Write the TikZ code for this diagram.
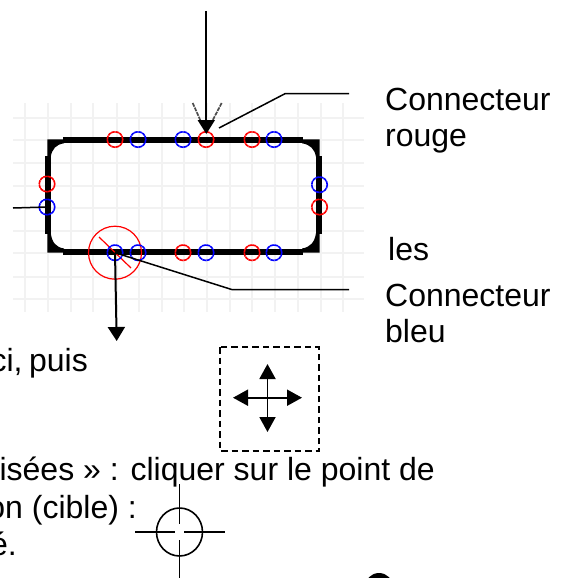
\documentclass[tikz,border=0pt]{standalone}
\usepackage{fontspec}
\setmainfont{Liberation Sans}
\usetikzlibrary{arrows.meta,shapes.geometric}
\definecolor{gridgrey}{HTML}{F2F2F2}
\tikzset{
  gridline/.style={gridgrey,line width=1.8pt},
  conn/.style={circle,draw,line width=1.6pt,minimum size=15.5pt,inner sep=0pt,dash pattern=on 3.6pt off 0.5pt},
  redconn/.style={conn,draw=red},
  blueconn/.style={conn,draw=blue},
  leader/.style={black,line width=1.5pt},
  bigarrow/.style={black,line width=2pt,-{Triangle[length=14pt,width=17pt]}},
  txt/.style={inner sep=0pt,font=\fontsize{32}{37}\selectfont,text=black},
  txtl/.style={txt,anchor=base west},
  txtr/.style={txt,anchor=base east},
  cursorv/.style={black!70,line width=1.7pt,dash pattern=on 4pt off 1pt},
}
\begin{document}
\begin{tikzpicture}[x=1pt,y=-1pt]
\useasboundingbox (0,0) rectangle (569,578);
\clip (0,0) rectangle (569,578);
% grid
\foreach \gx in {25,48,71,93,117,139,162,184,207,230,252,275,298,321,343}
  \draw[gridline] (\gx,103) -- (\gx,312);
\foreach \gy in {118,140,163,186,208,231,253,277,299}
  \draw[gridline] (13,\gy) -- (364,\gy);
% outline: straight sides
\fill[black] (63,137) rectangle (303,143.3);
\fill[black] (63,248.5) rectangle (303,255);
\fill[black] (45,156) rectangle (50.7,234);
\fill[black] (316,156) rectangle (322,234);
% outline: filled corners with a curved inner edge
\fill[black] (47.3,139.3) -- (64,139.3) -- (64,143.3) .. controls (56,144.5) and (52,149) .. (50.7,157) -- (47.3,157) -- cycle;
\fill[black] (319.7,139.3) -- (302,139.3) -- (302,143.3) .. controls (310,144.5) and (314.7,149) .. (316,157) -- (319.7,157) -- cycle;
\fill[black] (47.3,252.7) -- (64,252.7) -- (64,248.5) .. controls (56,247.3) and (52,242.5) .. (50.7,233) -- (47.3,233) -- cycle;
\fill[black] (319.7,252.7) -- (302,252.7) -- (302,248.5) .. controls (310,247.3) and (314.7,242.5) .. (316,233) -- (319.7,233) -- cycle;
% big red selection circle
\node[circle,draw=red,line width=1.2pt,minimum size=53pt,inner sep=0pt] (sel) at (115,252.7) {};
\draw[red,line width=1.2pt] (99,237) -- (131,268);
% connectors
\foreach \nm/\st/\px/\py in {
  ta/redconn/115/139.5, tb/blueconn/138/139.5, tc/blueconn/183/139.5,
  td/redconn/206/139.5, te/redconn/252/139.5, tf/blueconn/274/139.5,
  ba/blueconn/115/252.7, bb/blueconn/138/252.7, bc/redconn/183/252.7,
  bd/blueconn/206/252.7, be/redconn/252/252.7, bf/blueconn/274/252.7,
  la/redconn/47/184, lb/blueconn/47/207,
  ra/blueconn/319.5/184.7, rb/redconn/319.5/207}
  \node[\st] (\nm) at (\px,\py) {};
% cursor
\coordinate (vl0) at (192.7,103);
\coordinate (vl1) at (202,124);
\coordinate (vr0) at (221.7,103);
\coordinate (vr1) at (210.7,124);
\draw[cursorv] (vl0) -- (vl1);
\draw[cursorv] (vr0) -- (vr1);
% arrows
\coordinate (topstart) at (206.3,11);
\coordinate (toptip) at (206.3,134);
\draw[bigarrow] (topstart) -- (toptip);
\coordinate (bottip) at (116.7,341);
\draw[bigarrow] (ba.center) -- (bottip);
% leaders
\coordinate (lr0) at (219,128);
\coordinate (lr1) at (285,93.7);
\coordinate (lr2) at (349,93.7);
\draw[leader] (lr0) -- (lr1) -- (lr2);
\coordinate (lb1) at (232,289.6);
\coordinate (lb2) at (349,289.6);
\draw[leader] (ba.center) -- (lb1) -- (lb2);
\coordinate (ll0) at (13,208);
\draw[leader] (ll0) -- (lb.center);
% labels
\node[txtl] (t1) at (385,110) {Connecteur};
\node[txtl] (t2) at (385,146) {rouge};
\node[txtl] (t3) at (388,260) {les};
\node[txtl] (t4) at (385,306) {Connecteur};
\node[txtl] (t5) at (385,342) {bleu};
\node[txtr] (t6) at (88,371) {ci,\hspace{6.5pt}puis};
\node[txtr] (t7) at (435,480) {risées » : cliquer sur le point de};
\node[txtr] (t8) at (137,518) {on (cible) :};
\node[txtr] (t9) at (17,555) {é.};
% move icon
\draw[black,line width=1.3pt,dash pattern=on 6.5pt off 4pt] (220,347) rectangle (319,451);
\coordinate (mc) at (267.5,397.7);
\coordinate (mu) at (267.5,364);
\coordinate (md) at (267.5,432);
\coordinate (ml) at (233,397.7);
\coordinate (mr) at (302,397.7);
\tikzset{movearrow/.style={black,line width=1.9pt,-{Triangle[length=15pt,width=16pt]}}}
\draw[movearrow] (mc) -- (mu);
\draw[movearrow] (mc) -- (md);
\draw[movearrow] (mc) -- (ml);
\draw[movearrow] (mc) -- (mr);
% crosshair
\node[ellipse,draw=black,line width=1.6pt,minimum width=46pt,minimum height=48pt,inner sep=0pt] (target) at (179.5,532) {};
\coordinate (cw0) at (135,532);
\coordinate (cw1) at (175,532);
\coordinate (ce0) at (184,532);
\coordinate (ce1) at (225,532);
\coordinate (cn0) at (179.5,484);
\coordinate (cn1) at (179.5,524);
\coordinate (cs0) at (179.5,540);
\coordinate (cs1) at (179.5,578);
\draw[black,line width=1.6pt] (cw0) -- (cw1) (ce0) -- (ce1) (cn0) -- (cn1) (cs0) -- (cs1);
% black blob at the bottom edge
\fill[black] (379,587) circle (14);
\end{tikzpicture}
\end{document}
